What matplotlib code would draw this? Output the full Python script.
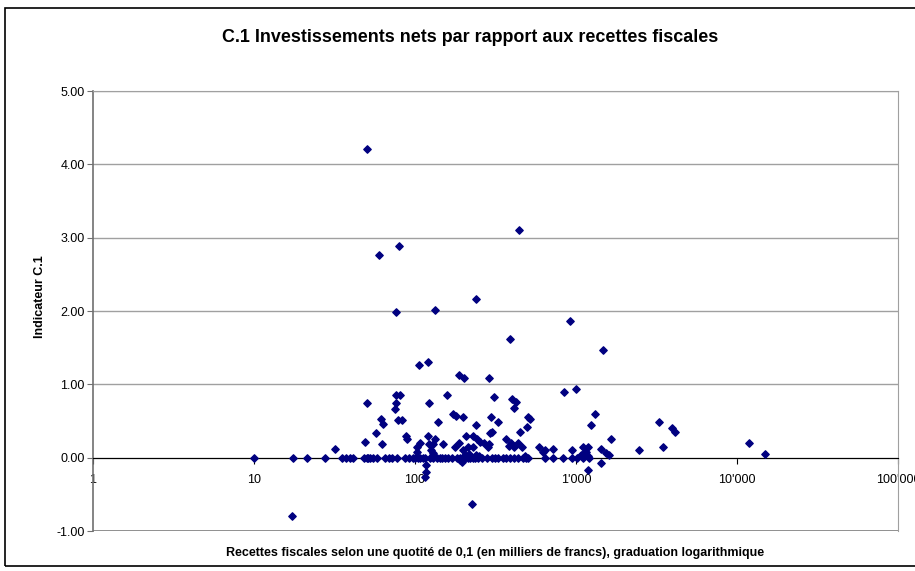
import numpy as np
import matplotlib.pyplot as plt
from matplotlib.patches import Rectangle

plt.rcParams['font.family'] = ['Liberation Sans', 'DejaVu Sans']

# recettes fiscales (milliers de francs) et indicateur C.1
recettes = [
    50, 60, 80, 443, 76, 133, 239, 918, 389, 1472, 106, 120, 188, 201, 288,
    842, 1000, 76, 81, 76, 75, 50, 122, 158, 310, 400, 424, 412, 1313, 297,
    504, 515, 328, 497, 1239, 3281, 3947, 4120, 300, 450, 367, 385, 412, 436,
    588, 620, 719, 945, 1100, 1190, 1150, 1650, 1440, 1530, 1600, 2460, 3470,
    11880, 14930, 1430, 1188, 61.5, 63, 78, 83, 57, 49, 32, 62, 88, 89, 139,
    172, 180, 199, 239, 120, 134, 129, 103, 108, 150, 177, 188, 207, 230, 242,
    253, 292, 290, 285, 199, 213, 229, 103, 122, 126, 129, 270, 395, 460, 117,
    117, 115, 195, 17.2, 226, 190, 640, 1180, 1080, 1120, 205, 215, 240, 250,
    130, 485,
    # valeurs nulles
    10, 17.5, 21.3, 27.6, 35.2, 37.3, 39.5, 41.2, 48, 50.3, 51, 52.5, 55, 58,
    65.1, 69, 72, 77.3, 86.7, 92, 97.2, 100, 104, 108, 112, 116, 124, 130, 137,
    142, 147, 153, 160, 170, 182, 190, 199, 205, 213, 220, 229, 237, 246, 260,
    280, 300, 314, 330, 352, 370, 389, 410, 436, 470, 490, 504, 642, 719, 830,
    944, 1014, 1100, 1200,
]
indicateur = [
    4.21, 2.77, 2.89, 3.10, 1.99, 2.02, 2.16, 1.87, 1.62, 1.47, 1.26, 1.31,
    1.13, 1.09, 1.09, 0.90, 0.94, 0.86, 0.86, 0.75, 0.67, 0.75, 0.75, 0.85,
    0.83, 0.80, 0.76, 0.68, 0.60, 0.55, 0.56, 0.53, 0.48, 0.42, 0.44, 0.48,
    0.40, 0.35, 0.35, 0.35, 0.25, 0.16, 0.15, 0.20, 0.15, 0.08, 0.12, 0.11,
    0.14, 0.14, 0.08, 0.25, 0.12, 0.07, 0.04, 0.11, 0.15, 0.20, 0.05, -0.07,
    -0.17, 0.53, 0.46, 0.52, 0.52, 0.34, 0.22, 0.12, 0.19, 0.29, 0.25, 0.49,
    0.59, 0.57, 0.56, 0.45, 0.29, 0.26, 0.18, 0.15, 0.20, 0.18, 0.15, 0.20,
    0.29, 0.30, 0.25, 0.22, 0.33, 0.18, 0.14, 0.11, 0.14, 0.15, 0.08, 0.19,
    0.11, 0.07, 0.20, 0.20, 0.15, -0.10, -0.20, -0.27, -0.06, -0.80, -0.63,
    -0.03, 0.10, 0.02, 0.04, 0.06, 0.03, 0.05, 0.04, 0.02, 0.03, 0.02,
] + [0.0] * 63

xticks = [1, 10, 100, 1000, 10000, 100000]
xtick_labels = ["1", "10", "100", "1'000", "10'000", "100'000"]
yticks = [-1, 0, 1, 2, 3, 4, 5]

W, H = 915, 571
fig = plt.figure(figsize=(W / 100, H / 100), dpi=100)
ax = fig.add_axes([93 / W, 1 - 531 / H, (898 - 93) / W, (531 - 91) / H])

# cadre du graphique (dépasse à droite comme dans l'original)
fig.patches.append(Rectangle((5 / W, 1 - 566 / H), 930 / W, 558 / H,
                             transform=fig.transFigure, fill=False,
                             edgecolor='black', linewidth=1.2))

ax.scatter(recettes, indicateur, marker='D', s=14, color='#000080',
           zorder=3, clip_on=False)

ax.set_xscale('log')
ax.set_xlim(1, 100000)
ax.set_ylim(-1, 5)
ax.set_xticks(xticks)
ax.set_xticklabels(xtick_labels)
ax.minorticks_off()
ax.set_yticks(yticks)
ax.set_yticklabels(['%.2f' % v for v in yticks])

ax.grid(axis='y', color='#a0a0a0', linewidth=1)
ax.set_axisbelow(True)
ax.axhline(-1, color='#808080', linewidth=1.2, zorder=2)

ax.spines['bottom'].set_position(('data', 0))
ax.spines['bottom'].set_color('black')
ax.spines['bottom'].set_zorder(2.5)
ax.spines['left'].set_color('#707070')
ax.spines['left'].set_linewidth(1.2)
ax.spines['right'].set_color('#a0a0a0')
ax.spines['top'].set_color('#a0a0a0')

ax.tick_params(axis='x', direction='out', length=4, pad=8, labelsize=9,
               color='black')
ax.tick_params(axis='y', direction='out', length=4, pad=2, labelsize=9,
               color='#707070')
for lab in ax.get_xticklabels():
    lab.set_clip_on(False)

fig.text(470 / W, 1 - 37 / H, 'C.1 Investissements nets par rapport aux recettes fiscales',
         ha='center', va='center', fontsize=12.9, fontweight='bold')
fig.text(495 / W, 1 - 553 / H,
         'Recettes fiscales selon une quotité de 0,1 (en milliers de francs), graduation logarithmique',
         ha='center', va='center', fontsize=9, fontweight='bold')
fig.text(40 / W, 1 - 297 / H, 'Indicateur C.1', rotation=90,
         ha='center', va='center', fontsize=9, fontweight='bold')

fig.savefig('out.png', dpi=100)
